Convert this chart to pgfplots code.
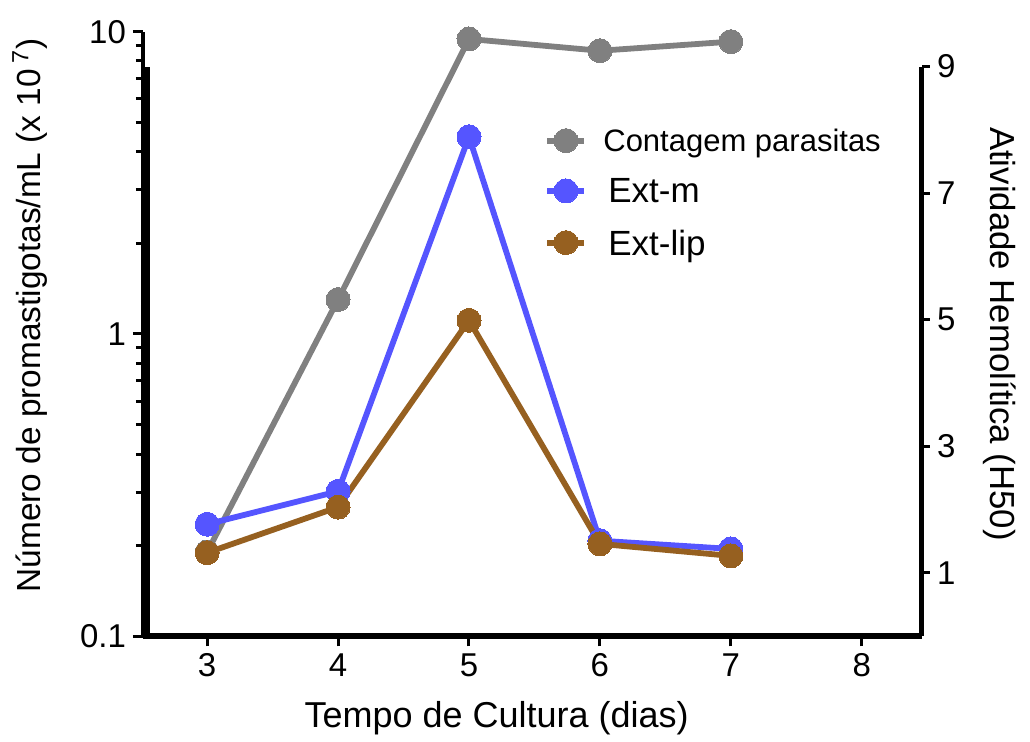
\documentclass[border=0pt]{standalone}
\usepackage{fontspec}
\setmainfont{Liberation Sans}
\usepackage{pgfplots}
\pgfplotsset{compat=1.18}

\definecolor{cgray}{RGB}{128,128,128}
\definecolor{cblue}{RGB}{85,85,255}
\definecolor{cbrown}{RGB}{150,96,32}

\begin{document}
\begin{tikzpicture}
\useasboundingbox (-71.5pt,-52.85pt) rectangle (443.5pt,318.15pt);
\pgfplotsset{
  every axis/.append style={
    scale only axis, width=389.5pt, height=302.3pt,
    xmin=2.51, xmax=8.46,
    /pgf/number format/assume math mode=true,
    tick label style={font=\fontsize{16.5}{18}\selectfont},
    tick align=outside,
    every tick/.style={black, line width=1.5pt},
  },
  series/.style={color=#1, line width=2.9pt, mark=*, mark size=6pt,
    mark options={fill=#1, draw=#1, line width=0pt}},
}
% parasite count, log scale on the left
\begin{axis}[
  ymode=log, ymin=0.1, ymax=10,
  axis x line*=bottom, axis y line*=left,
  axis line style={-},
  x axis line style={line width=3pt},
  y axis line style={line width=2pt},
  xtick={3,4,5,6,7,8},
  ytick={0.1,1,10}, yticklabels={0.1,1,10},
  minor ytick={0.2,0.3,0.4,0.5,0.6,0.7,0.8,0.9,2,3,4,5,6,7,8,9},
  major tick length=5pt, minor tick length=3.5pt,
  xlabel={Tempo de Cultura (dias)},
  xlabel style={font=\fontsize{18}{20}\selectfont,
    at={(axis description cs:0.454,-0.135)}, anchor=center},
  ylabel={Número de promastigotas/mL (x 10\,\textsuperscript{7})},
  ylabel style={font=\fontsize{16.7}{18}\selectfont,
    at={(axis description cs:-0.145,0.531)}, anchor=center},
]
\addplot[series=cgray] coordinates {(3,0.19) (4,1.30) (5,9.46) (6,8.65) (7,9.27)};
\end{axis}
% hemolytic activity, linear scale on the right
\begin{axis}[
  ymin=0, ymax=9.55,
  axis x line=none,
  axis y line*=right,
  y axis line style={draw=none},
  ytick={1,3,5,7,9},
  major tick length=4pt,
  clip=false,
  ylabel={Atividade Hemolítica (H50)},
  ylabel style={font=\fontsize{17.4}{19}\selectfont, rotate=180,
    at={(axis description cs:1.1,0.5)}, anchor=center},
  legend cell align=left,
  legend style={draw=none, fill=none, at={(axis description cs:0.515,0.849)},
    anchor=north west, inner sep=0pt, row sep=7.5pt, column sep=5pt,
    nodes={inner sep=3pt, text depth=0pt}},
  legend image code/.code={
    \draw[#1, mark repeat=2, mark phase=2] plot coordinates {(0pt,0pt) (9.25pt,0pt) (18.5pt,0pt)};},
]
\draw[line width=4pt] ([xshift=1.5pt]axis cs:2.51,0) -- ([xshift=1.5pt]axis cs:2.51,9);
\draw[line width=2.5pt] (axis cs:8.46,0) -- (axis cs:8.46,9);
\addlegendimage{series=cgray}
\addlegendentry{\fontsize{15.5}{17}\selectfont Contagem parasitas}
\addplot[series=cblue] coordinates {(3,1.77) (4,2.29) (5,7.89) (6,1.51) (7,1.38)};
\addlegendentry{\fontsize{17.5}{19}\selectfont\hspace{2.5pt}Ext-m}
\addplot[series=cbrown] coordinates {(3,1.32) (4,2.04) (5,4.99) (6,1.46) (7,1.27)};
\addlegendentry{\fontsize{17.5}{19}\selectfont\hspace{2.5pt}Ext-lip}
\end{axis}
\end{tikzpicture}
\end{document}
